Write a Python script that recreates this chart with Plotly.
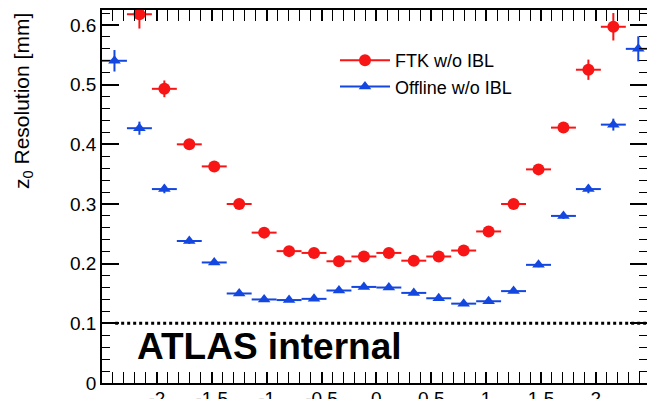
import numpy as np
import plotly.graph_objects as go

# eta bins: 22 bins from -2.5 to 2.5
bin_edges_lo = -2.5
bin_edges_hi = 2.5
n_bins = 22
bin_width = (bin_edges_hi - bin_edges_lo) / n_bins
eta_centers = [bin_edges_lo + (i + 0.5) * bin_width for i in range(n_bins)]

x_tickvals = [-2, -1.5, -1, -0.5, 0, 0.5, 1, 1.5, 2]
x_ticktext = ["-2", "-1.5", "-1", "-0.5", "0", "0.5", "1", "1.5", "2"]

ftk_res = [None, 0.618, 0.493, 0.400, 0.363, 0.300, 0.252, 0.221, 0.218, 0.204, 0.212,
           0.218, 0.205, 0.212, 0.222, 0.254, 0.300, 0.358, 0.428, 0.525, 0.597, None]
ftk_err = [0, 0.024, 0.014, 0.008, 0.006, 0.005, 0.004, 0.004, 0.004, 0.004, 0.004,
           0.004, 0.004, 0.004, 0.004, 0.004, 0.005, 0.006, 0.008, 0.017, 0.023, 0]

off_res = [0.540, 0.427, 0.325, 0.238, 0.202, 0.150, 0.140, 0.139, 0.141, 0.155, 0.161,
           0.160, 0.151, 0.142, 0.133, 0.137, 0.154, 0.198, 0.280, 0.325, 0.433, 0.560]
off_err = [0.018, 0.011, 0.007, 0.005, 0.004, 0.003, 0.003, 0.003, 0.003, 0.003, 0.003,
           0.003, 0.003, 0.003, 0.003, 0.003, 0.003, 0.004, 0.005, 0.007, 0.010, 0.021]

threshold = 0.1
threshold_x = [-2.38, 2.5]

RED = "#f81515"
BLUE = "#1446e0"
FONT = "Liberation Sans, Arial, sans-serif"

fig = go.Figure()

def add_series(y, err, color, symbol, size, name):
    fig.add_trace(go.Scatter(
        x=eta_centers, y=y, mode="markers", showlegend=False,
        marker=dict(color=color, symbol=symbol, size=size, line=dict(width=0)),
        error_x=dict(type="constant", value=bin_width / 2, color=color, thickness=2, width=0),
        error_y=dict(type="data", array=err, color=color, thickness=2, width=0, visible=True),
    ))
    fig.add_trace(go.Scatter(
        x=[None], y=[None], mode="lines+markers", name=name,
        marker=dict(color=color, symbol=symbol, size=size),
        line=dict(color=color, width=2),
    ))

add_series(ftk_res, ftk_err, RED, "circle", 12, "FTK w/o IBL")
add_series(off_res, off_err, BLUE, "triangle-up", 11, "Offline w/o IBL")

# dummy trace for right-side ticks axis
fig.add_trace(go.Scatter(x=[None], y=[None], yaxis="y2", showlegend=False))

fig.add_shape(type="line", x0=threshold_x[0], x1=threshold_x[1], y0=threshold, y1=threshold,
              xref="x", yref="y", line=dict(color="black", width=3, dash="dot"))

xr = [-2.5, -2.5 + 545 / 109.75]
yr = [0, 0.6251]

fig.update_layout(
    width=647, height=399,
    margin=dict(l=102, r=0, t=10, b=16),
    plot_bgcolor="white", paper_bgcolor="white",
    font=dict(family=FONT, size=18, color="black"),
    xaxis=dict(range=xr, showgrid=False, zeroline=False, showline=True, linecolor="black",
               linewidth=1.5, mirror="allticks", ticks="inside", ticklen=11, tickwidth=1.5,
               tickcolor="black", tickmode="array", tickvals=x_tickvals, ticktext=x_ticktext,
               automargin=False, ticklabelstandoff=-3,
               minor=dict(ticks="inside", ticklen=6, dtick=0.1, tick0=0, tickcolor="black", tickwidth=1.2),
               tickfont=dict(size=19)),
    yaxis=dict(range=yr, showgrid=False, zeroline=False, showline=True, linecolor="black",
               linewidth=1.5, mirror=False, ticks="inside", ticklen=17, tickwidth=1.5,
               tickcolor="black", dtick=0.1, tick0=0, automargin=False,
               minor=dict(ticks="inside", ticklen=8, dtick=0.02, tick0=0, tickcolor="black", tickwidth=1.2),
               tickfont=dict(size=19)),
    yaxis2=dict(range=yr, overlaying="y", side="right", showgrid=False, zeroline=False,
                showline=False, ticks="inside", ticklen=17, tickwidth=1.5, tickcolor="black",
                dtick=0.1, tick0=0, showticklabels=False,
                minor=dict(ticks="inside", ticklen=8, dtick=0.02, tick0=0, tickcolor="black", tickwidth=1.2)),
    legend=dict(x=(335 - 102) / 545, y=(383 - 42) / 373, xanchor="left", yanchor="top",
                bgcolor="rgba(0,0,0,0)", font=dict(size=18), itemwidth=50),
    annotations=[
        dict(text="z<sub>0</sub> Resolution [mm]", textangle=-90, xref="paper", yref="paper",
             x=(23 - 102) / 545, y=(383 - 101) / 373, xanchor="center", yanchor="middle",
             showarrow=False, font=dict(size=21)),
        dict(text="<b>ATLAS internal</b>", xref="paper", yref="paper",
             x=(135 - 102) / 545, y=(383 - 346) / 373, xanchor="left", yanchor="middle",
             showarrow=False, font=dict(size=37)),
    ],
)

fig.write_html("out.html")
